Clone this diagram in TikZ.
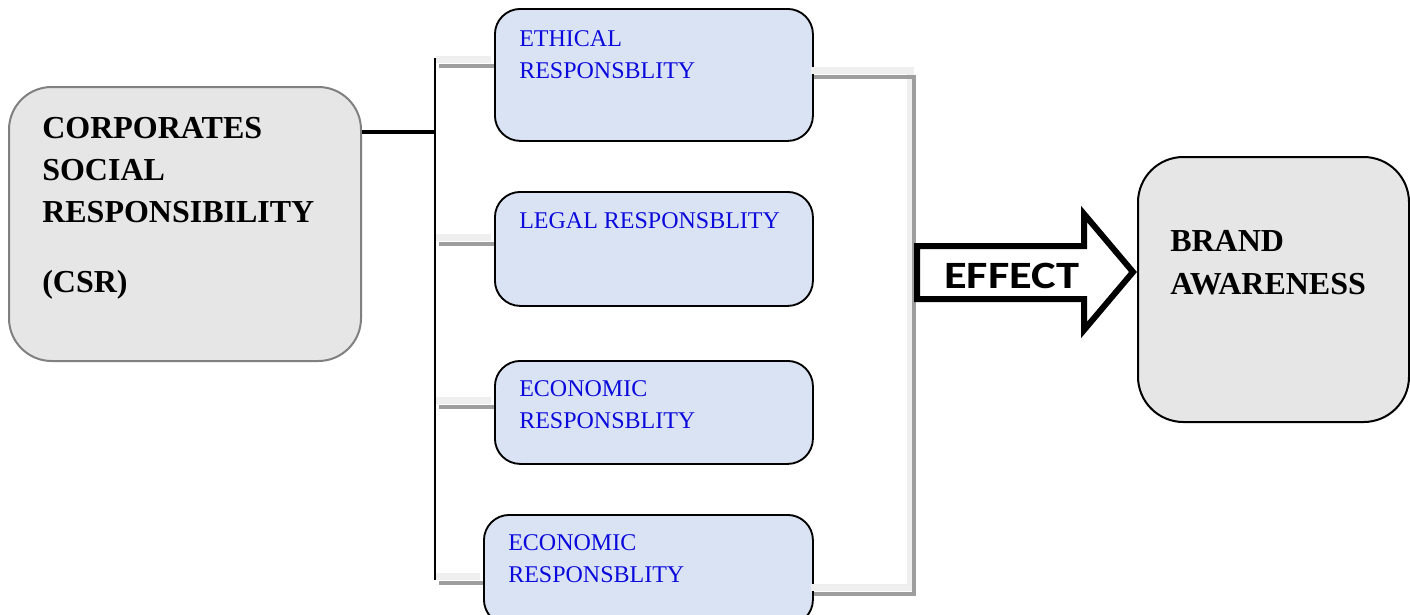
\documentclass[tikz,border=0pt]{standalone}
\usepackage{fontspec}
\setmainfont{Liberation Serif}
\newfontfamily\effectfont{Carlito}
\usetikzlibrary{positioning}
\definecolor{csrgray}{HTML}{E7E6E6}
\definecolor{boxblue}{HTML}{DAE3F3}
\definecolor{txtblue}{HTML}{0A0ADC}
\definecolor{stublight}{HTML}{EFEFEF}
\definecolor{stubdark}{HTML}{9E9E9E}
\begin{document}
\begin{tikzpicture}[x=0.75pt,y=-0.75pt,
  bigbox/.style={fill=csrgray, line width=1.5pt, anchor=north west, inner sep=0pt},
  respbox/.style={draw=black, line width=1.4pt, fill=boxblue, rounded corners=19pt, anchor=north west, inner sep=0pt},
  resptext/.style={anchor=base west, text=txtblue, font=\fontsize{18}{23.5}\selectfont, align=left, inner sep=0pt},
  headtext/.style={anchor=base west, font=\fontsize{24}{31.8}\selectfont\bfseries, align=left, inner sep=0pt},
  stub/.style={draw=stubdark, line width=3.7pt, preaction={draw=stublight, line width=5pt, transform canvas={xshift=-2.5pt,yshift=5pt}}}]
\useasboundingbox (0,0) rectangle (1410,614);
% left and right boxes
\node[bigbox, draw=gray, rounded corners=32pt, minimum width=352*0.75pt, minimum height=274*0.75pt] (csr) at (8,86) {};
\node[bigbox, draw=black, rounded corners=34pt, minimum width=271*0.75pt, minimum height=265*0.75pt] (brand) at (1137,156) {};
% responsibility boxes
\node[respbox, minimum width=318*0.75pt, minimum height=132*0.75pt] (ethical) at (494,8) {};
\node[respbox, minimum width=318*0.75pt, minimum height=114*0.75pt] (legal) at (494,191) {};
\node[respbox, minimum width=318*0.75pt, minimum height=103*0.75pt] (economic) at (494,360) {};
\node[respbox, minimum width=329*0.75pt, minimum height=110*0.75pt] (economicb) at (483,514) {};
% texts (anchored at the last line)
\node[headtext] (csrtext) at (42,292) {CORPORATES\\SOCIAL\\RESPONSIBILITY\\[20pt](CSR)};
\node[headtext] (brandtext) at (1170,294) {BRAND\\AWARENESS};
\node[resptext] (ethicaltext) at (519,78) {ETHICAL\\RESPONSBLITY};
\node[resptext] (legaltext) at (519,228) {LEGAL RESPONSBLITY};
\node[resptext] (economictext) at (519,428) {ECONOMIC\\RESPONSBLITY};
\node[resptext] (economicbtext) at (508,582) {ECONOMIC\\RESPONSBLITY};
% left bracket
\coordinate (split) at (435,132);
\coordinate (ltop) at (435,58);
\coordinate (lbot) at (435,580);
\draw[line width=3pt] (csr.east |- split) -- (split);
\draw[line width=1.5pt] (ltop) -- (lbot);
\foreach \b/\y in {ethical/66, legal/244, economic/407, economicb/583}
  \draw[stub] ([xshift=3pt]ltop |- 0,\y) -- (\b.west |- 0,\y);
% right bracket
\coordinate (rtop) at (914,77);
\coordinate (rbot) at (914,594);
\draw[stub] (ethical.east |- rtop) -- (rtop) -- (rbot) -- (economicb.east |- rbot);
% effect arrow
\draw[line width=4.5pt, fill=white] (917,246) -- (1084,246) -- (1084,214) -- (1133,272)
  -- (1084,330) -- (1084,299) -- (917,299) -- cycle;
\node[anchor=base west, inner sep=0pt, xscale=1.2, font=\effectfont\fontsize{29}{34}\selectfont\bfseries] (effect) at (944,288) {EFFECT};
\end{tikzpicture}
\end{document}
